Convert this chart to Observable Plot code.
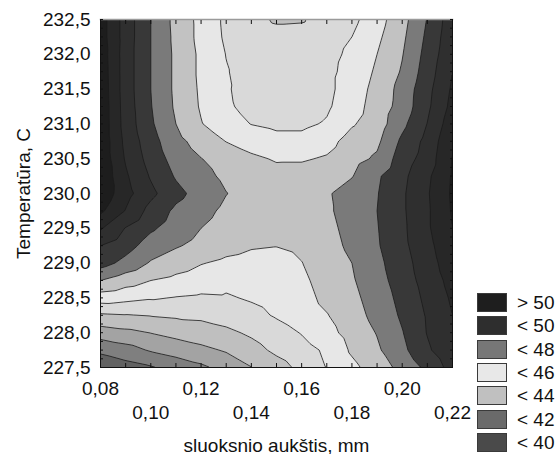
<!DOCTYPE html>
<html><head><meta charset="utf-8">
<script src="https://cdn.jsdelivr.net/npm/d3@7"></script>
<script src="https://cdn.jsdelivr.net/npm/@observablehq/plot@0.6"></script>
<style>
body{margin:0;background:#fff;font-family:"Liberation Sans",Arial,sans-serif;}
#wrap{position:relative;width:557px;height:454px;overflow:hidden;}
#legend{position:absolute;left:477px;top:293px;}
.item{display:flex;align-items:center;height:19px;margin-bottom:4.33px;}
.sw{width:28px;height:17px;border:1px solid #3a3a3a;}
.lb{margin-left:10px;font-size:19px;color:#111;line-height:19px;}
</style></head><body><div id="wrap"><div id="legend"></div></div>
<script>
// grid columns: sluoksnio aukštis (mm)
const xs = [0.08,0.09,0.10,0.11,0.12,0.13,0.14,0.15,0.16,0.17,0.18,0.19,0.20,0.21,0.22];
// grid rows: temperatūra (C), top to bottom
const ys = [232.5,232.25,232.0,231.75,231.5,231.25,231.0,230.75,230.5,230.25,230.0,229.75,229.5,229.25,229.0,228.75,228.5,228.25,228.0,227.75,227.5];
// surface values
const z = [
 [51.0,47.1,44.0,41.4,39.4,37.6,36.8,35.7,35.8,37.0,37.5,39.2,41.3,44.1,47.2],
 [51.0,47.1,44.0,41.5,39.4,37.7,37.2,36.8,36.8,37.2,38.0,39.6,41.6,44.4,47.4],
 [51.2,47.0,44.0,41.6,39.6,37.95,37.3,37.0,37.0,37.4,38.4,40.0,41.9,44.7,47.6],
 [51.3,47.0,44.0,41.6,39.6,38.1,37.3,37.0,37.0,37.5,38.7,40.3,42.2,45.0,48.0],
 [51.4,47.0,44.0,41.6,39.7,38.2,37.2,36.9,36.9,37.5,39.0,40.6,42.7,45.4,48.3],
 [51.5,47.1,44.1,41.7,39.8,38.3,37.4,37.0,37.0,37.7,39.2,40.8,42.8,45.6,48.6],
 [51.5,47.2,44.3,42.0,40.1,38.8,37.95,37.6,37.6,38.2,39.8,41.0,43.5,46.05,49.2],
 [51.5,47.5,44.8,42.6,41.2,39.95,39.1,38.6,38.6,39.3,40.8,41.6,44.4,46.6,49.8],
 [51.5,47.8,45.2,43.2,42.05,41.2,40.4,39.8,39.8,40.2,41.3,42.3,45.0,46.9,50.1],
 [51.6,48.3,45.8,43.8,42.6,41.6,41.0,40.7,40.8,41.2,41.9,43.7,45.5,47.6,50.2],
 [51.5,48.7,46.5,44.6,43.2,42.05,41.3,41.0,41.2,41.8,42.8,43.9,45.7,47.8,50.3],
 [50.4,47.9,45.3,43.6,42.6,41.6,41.0,40.8,41.0,41.7,42.8,44.0,45.7,47.7,50.2],
 [48.2,45.9,44.3,43.1,42.0,41.2,40.6,40.4,40.7,41.5,42.6,43.9,45.6,47.7,50.0],
 [46.0,44.8,43.1,42.2,41.4,40.7,40.2,40.05,40.4,41.3,42.4,43.8,45.5,47.4,49.6],
 [44.8,43.4,41.8,40.9,40.1,39.6,39.3,39.3,39.95,41.0,42.0,43.5,45.2,47.1,49.2],
 [42.0,40.9,40.0,39.5,39.0,38.5,38.4,38.7,39.6,40.8,41.8,43.2,45.0,46.8,48.7],
 [39.0,38.6,38.2,37.9,37.7,37.8,38.2,38.7,39.3,40.5,41.5,42.9,44.6,46.5,48.3],
 [35.7,35.9,36.1,36.3,36.4,36.8,37.4,38.2,39.0,39.9,41.2,42.6,44.3,46.2,48.0],
 [33.0,33.5,34.05,34.6,35.1,35.6,36.3,37.2,38.1,39.3,40.8,42.1,43.9,46.1,47.8],
 [30.4,31.2,32.2,32.9,33.5,34.2,35.3,36.4,37.3,38.3,40.3,41.7,43.5,45.7,47.5],
 [28.6,29.2,29.8,30.7,31.6,32.7,33.95,35.2,36.5,38.05,39.5,41.0,42.6,44.5,46.8]
];
const thresholds = [26,28,30,32,34,36,38,40,42,44,46,48,50];
const bandColors = ["#4a4a4a","#626262","#7f7f7f","#a3a3a3","#bfbfbf","#d9d9d9","#e7e7e7","#c2c2c2","#7a7a7a","#383838","#2f2f2f","#272727","#1d1d1d"];
const legendLabels = ["> 50","< 50","< 48","< 46","< 44","< 42","< 40"];
const legendColors = ["#1e1e1e","#2e2e2e","#777777","#e8e8e8","#c0c0c0","#6a6a6a","#4a4a4a"];
const xTickRow1 = [0.08,0.12,0.16,0.20];
const xTickRow2 = [0.10,0.14,0.18,0.22];
const yTicks = [227.5,228.0,228.5,229.0,229.5,230.0,230.5,231.0,231.5,232.0,232.5];
const xMinor = d3.range(8, 23).map(d => d / 100);
const yMinor = d3.range(0, 41).map(d => 227.5 + d * 0.125);

const points = ys.flatMap((y, i) => xs.map((x, j) => ({x, y, v: z[i][j]})));
const fx = d => d.toFixed(2).replace(".", ",");
const fy = d => d.toFixed(1).replace(".", ",");

const chart = Plot.plot({
  width: 557, height: 454,
  marginLeft: 100, marginRight: 105, marginTop: 19, marginBottom: 87,
  style: {fontFamily: "'Liberation Sans', Arial, sans-serif", fontSize: "19px", color: "#111", background: "#fff"},
  x: {domain: [0.08, 0.22]},
  y: {domain: [227.5, 232.5]},
  color: {type: "ordinal", domain: thresholds, range: bandColors},
  marks: [
    Plot.contour(points, {x: "x", y: "y", fill: "v", thresholds, interpolate: "barycentric", pixelSize: 1, stroke: "#1a1a1a", strokeWidth: 0.8, clip: true}),
    Plot.frame({stroke: "#111"}),
    Plot.frame({anchor: "top", stroke: "#9a9a9a", strokeWidth: 1.5}),
    Plot.axisX(xMinor, {anchor: "bottom", tickSize: -4, tickFormat: () => "", label: null}),
    Plot.axisX(xMinor, {anchor: "top", tickSize: -4, tickFormat: () => "", label: null}),
    Plot.axisY(yMinor, {anchor: "left", tickSize: -3, tickFormat: () => "", label: null}),
    Plot.axisY(yMinor, {anchor: "right", tickSize: -3, tickFormat: () => "", label: null}),
    Plot.axisX(xTickRow1, {anchor: "bottom", tickSize: 0, tickPadding: 14, tickFormat: fx, label: null}),
    Plot.axisX(xTickRow2, {anchor: "bottom", tickSize: 0, tickPadding: 38, tickFormat: fx, label: "sluoksnio aukštis, mm", labelAnchor: "center", labelArrow: "none", labelOffset: 84}),
    Plot.axisY(yTicks, {anchor: "left", tickSize: 0, tickPadding: 10, tickFormat: fy, label: "Temperatūra, C", labelAnchor: "center", labelArrow: "none", labelOffset: 84})
  ]
});
document.getElementById("wrap").prepend(chart);

const legend = document.getElementById("legend");
legendLabels.forEach((t, i) => {
  const it = document.createElement("div"); it.className = "item";
  const sw = document.createElement("div"); sw.className = "sw"; sw.style.background = legendColors[i];
  const lb = document.createElement("span"); lb.className = "lb"; lb.textContent = t;
  it.append(sw, lb); legend.append(it);
});
</script></body></html>
